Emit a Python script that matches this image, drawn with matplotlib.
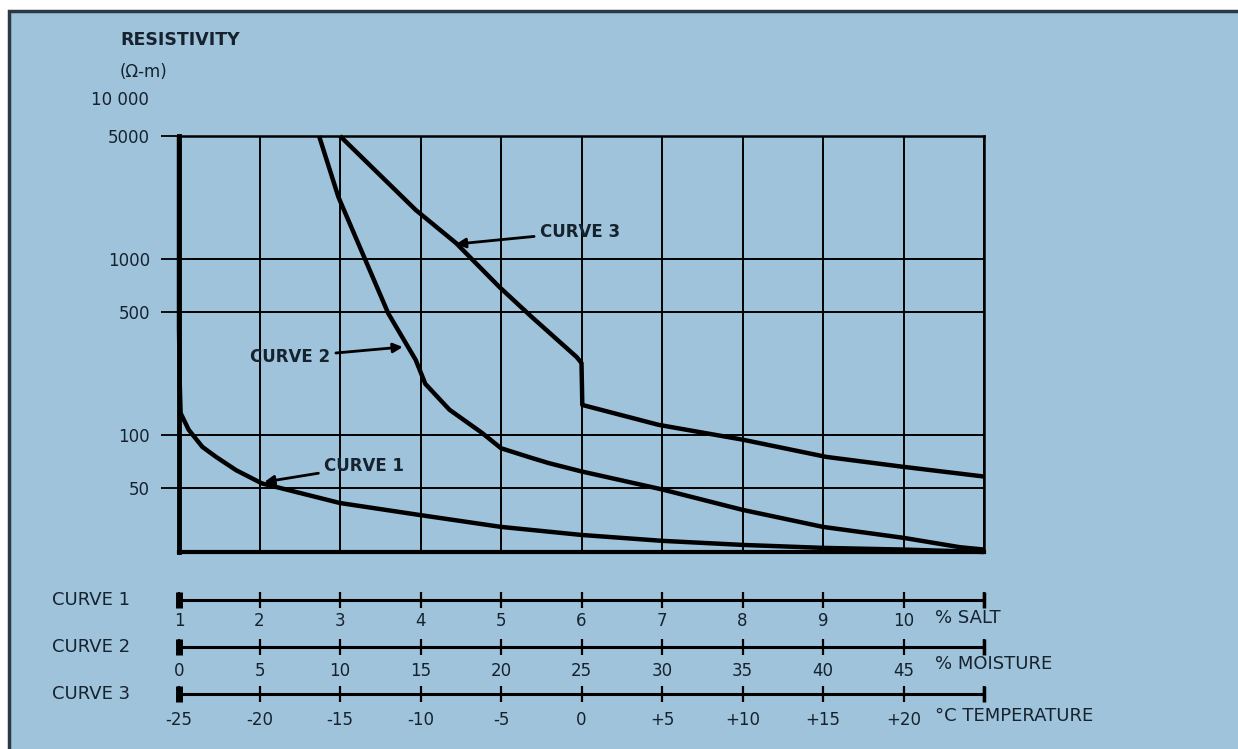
import matplotlib
matplotlib.use("Agg")
import matplotlib.pyplot as plt
from matplotlib.patches import Rectangle
from matplotlib.ticker import FixedLocator, NullLocator

plt.rcParams["font.family"] = ["DejaVu Sans"]

# curve 1: resistivity vs % salt
salt = [1.0, 1.0, 1.01, 1.02, 1.12, 1.29, 1.46, 1.71, 2.03, 3.0, 4.0, 5.0, 6.0, 7.0, 8.0, 9.0, 10.0, 11.0]
curve1 = [5000, 400, 190, 133, 107, 85.5, 75, 63, 53, 41, 35, 30, 27, 25, 23.7, 22.8, 22.3, 21.6]

# curve 2: resistivity vs % moisture
moisture = [8.7, 9.9, 13.0, 14.7, 15.3, 16.8, 18.8, 20.0, 21.9, 23.0, 25.0, 30.0, 35.0, 40.0, 45.0, 48.5, 50.0]
curve2 = [5000, 2250, 490, 267, 195, 139, 103, 84, 74, 69, 62, 49, 37.5, 30, 26, 23, 22.3]

# curve 3: resistivity vs temperature
temperature = [-15.0, -10.3, -7.8, -5.1, -3.1, -0.3, 0.0, 0.05, 4.8, 10.0, 15.2, 19.9, 25.0]
curve3 = [5000, 1900, 1233, 693, 469, 277, 256, 148, 114, 94, 75, 66, 58]

y_ticks = [50, 100, 500, 1000, 5000]
salt_ticks = [1, 2, 3, 4, 5, 6, 7, 8, 9, 10, 11]
salt_labels = ["1", "2", "3", "4", "5", "6", "7", "8", "9", "10", ""]
moist_ticks = [0, 5, 10, 15, 20, 25, 30, 35, 40, 45, 50]
moist_labels = ["0", "5", "10", "15", "20", "25", "30", "35", "40", "45", ""]
temp_ticks = [-25, -20, -15, -10, -5, 0, 5, 10, 15, 20, 25]
temp_labels = ["-25", "-20", "-15", "-10", "-5", "0", "+5", "+10", "+15", "+20", ""]

W, H = 1238, 749
BG = "#9ec3db"
INK = "#16222e"
FS = 12


def fx(px):
    return px / W


def fy(py):
    return 1 - py / H


fig = plt.figure(figsize=(W / 100, H / 100), dpi=100)
fig.patch.set_facecolor("white")
fig.patches.append(Rectangle((fx(9), -0.05), 1.2, fy(11) + 0.05, transform=fig.transFigure,
                             facecolor=BG, edgecolor="#2c3844", lw=2.5, zorder=-10))

left, right, top, bottom = 179, 984, 136, 552
ax = fig.add_axes([fx(left), fy(bottom), fx(right - left), (bottom - top) / H])
ax.set_facecolor("none")
ax.set_yscale("log")
ax.set_ylim(21.6, 5000)
ax.set_xlim(1, 11)
ax.yaxis.set_major_locator(FixedLocator(y_ticks))
ax.yaxis.set_minor_locator(NullLocator())
ax.set_yticklabels([str(v) for v in y_ticks])
ax.xaxis.set_major_locator(FixedLocator(salt_ticks))
ax.tick_params(axis="x", length=0, labelbottom=False)
ax.tick_params(axis="y", length=13, width=1.3, pad=8, labelsize=FS, labelcolor=INK, color="black")
ax.grid(True, color="black", lw=1.4)
for side, lw in [("left", 3.5), ("bottom", 3.0), ("top", 1.8), ("right", 1.8)]:
    ax.spines[side].set_linewidth(lw)
    ax.spines[side].set_color("black")

ax2 = ax.twiny()
ax2.set_xlim(0, 50)
ax3 = ax.twiny()
ax3.set_xlim(-25, 25)
for a in (ax2, ax3):
    a.set_xticks([])
    for s in a.spines.values():
        s.set_visible(False)

kw = dict(color="black", lw=3.2, solid_joinstyle="round", solid_capstyle="butt", clip_on=False)
ax.plot(salt, curve1, **kw)
ax2.plot(moisture, curve2, **kw)
ax3.plot(temperature, curve3, **kw)

arrow = dict(arrowstyle="-|>", color="black", lw=2, mutation_scale=14, shrinkA=2, shrinkB=0)
tfont = dict(fontsize=FS, color=INK, fontweight="bold")
ax3.annotate("CURVE 3", xy=(-7.8, 1215), xytext=(-2.6, 1424), ha="left", va="center",
             arrowprops=arrow, **tfont)
ax2.annotate("CURVE 2", xy=(13.9, 316), xytext=(9.4, 277), ha="right", va="center",
             arrowprops=arrow, **tfont)
ax.annotate("CURVE 1", xy=(2.06, 54), xytext=(2.8, 66.7), ha="left", va="center",
            arrowprops=arrow, **tfont)

fig.text(fx(120), fy(40), "RESISTIVITY", fontsize=12.5, fontweight="bold", color=INK, va="center")
fig.text(fx(120), fy(72), "(\u03a9-m)", fontsize=FS, color=INK, va="center")
fig.text(fx(149), fy(100), "10 000", fontsize=FS, color=INK, va="center", ha="right")

# the three horizontal scales below the chart
scales = [
    (600, 618, "CURVE 1", salt_ticks, salt_labels, "% SALT", 3.5),
    (647, 664, "CURVE 2", moist_ticks, moist_labels, "% MOISTURE", 5.5),
    (694, 716, "CURVE 3", temp_ticks, temp_labels, "\u00b0C TEMPERATURE", 6.5),
]
for ypx, uy, name, ticks, labels, unit, pad in scales:
    sa = fig.add_axes([fx(left), fy(ypx), fx(right - left), 0.0001])
    sa.set_facecolor("none")
    sa.set_xlim(ticks[0], ticks[-1])
    sa.set_ylim(-1, 1)
    sa.set_yticks([])
    for s in ("left", "right", "top"):
        sa.spines[s].set_visible(False)
    sa.spines["bottom"].set_linewidth(2.2)
    sa.set_xticks(ticks)
    sa.set_xticklabels(labels)
    sa.tick_params(axis="x", direction="inout", length=11, width=1.6, pad=pad,
                   labelsize=FS, labelcolor=INK)
    sa.plot([ticks[0]], [-1], marker="|", ms=12, mew=5, color="black", clip_on=False)
    sa.plot([ticks[-1]], [-1], marker="|", ms=12, mew=2.5, color="black", clip_on=False)
    fig.text(fx(52), fy(ypx), name, fontsize=13, color=INK, va="center", ha="left")
    fig.text(fx(935), fy(uy), unit, fontsize=13, color=INK, va="center", ha="left")

fig.savefig("out.png", dpi=100)
